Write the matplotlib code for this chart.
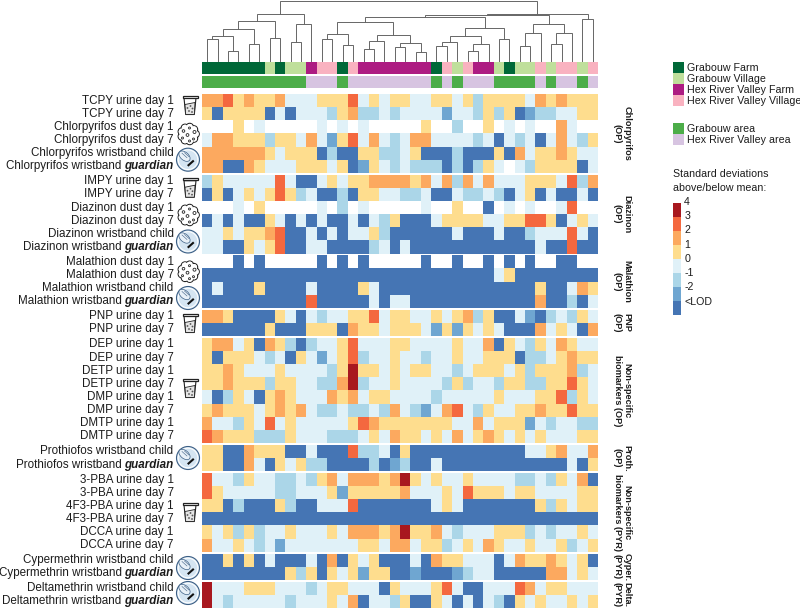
import numpy as np
import matplotlib
matplotlib.use("Agg")
import matplotlib.pyplot as plt
from matplotlib.colors import ListedColormap, BoundaryNorm
from matplotlib.patches import Circle, Polygon, Rectangle, Ellipse

plt.rcParams['font.family'] = ['Liberation Sans', 'DejaVu Sans']

# heat levels: 0 <LOD, 1 -2, 2 -1, 3 0, 4 1, 5 2, 6 3, 7 4, 9 = no value (white)
chlorpyrifos = ["55645 44533 34446 34344 33443 42444 43545 444",
                "40444 40303 33245 22323 33313 32424 01223 344",
                "99949 39999 93939 39999 94992 99493 93995 399",
                "35544 42443 53146 35323 55333 32303 23035 324",
                "55555 54344 40200 44223 40002 00040 53445 433",
                "55005 43334 44340 14323 22202 02439 32444 403"]
diazinon = ["24333 33630 03434 45555 45352 53533 34443 625",
            "04034 34642 30020 44332 23003 22320 34030 030",
            "99939 49999 93929 39999 93994 99093 93993 699",
            "03030 04303 03003 03240 00344 44334 46640 343",
            "33434 45600 30303 34200 00003 00030 02333 630",
            "33004 34600 33000 02303 00000 00000 00300 600"]
malathion = ["99909 09999 90909 09999 90990 99090 90990 099",
             "00000 00000 00000 00000 00000 00034 00000 000",
             "03000 40000 30000 43000 00000 00000 00400 354",
             "00000 00000 60000 03033 00000 00000 00500 203"]
pnp = ["55400 00430 32334 46344 33434 52400 31023 243",
       "00000 04000 44405 44344 43141 43430 00534 305"]
nonspecific_op = ["45534 05420 23346 33344 33334 33504 32435 433",
                  "40444 32304 31346 23343 32334 33444 02234 544",
                  "44543 33433 33247 44343 44332 34443 42444 523",
                  "44544 42443 32257 23343 33324 23324 42244 643",
                  "30243 04543 33545 34433 33233 33343 33446 243",
                  "45444 34545 32232 23253 21356 32433 44544 644",
                  "53324 36343 33334 65444 44443 35344 41323 322",
                  "65444 22243 33222 34354 43435 34543 43433 344"]
prothiofos = ["44005 44400 30006 22304 00000 00000 03345 335",
              "44005 30434 22000 02012 00300 00000 00000 304"]
nonspecific_pyr = ["63324 33223 24535 55457 43433 43333 22324 350",
                   "64333 33223 33414 44445 33343 64443 44333 344",
                   "44020 00420 03336 00000 00343 00000 00424 344",
                   "00000 00000 00000 00000 00000 00000 00000 000",
                   "43424 23343 33435 55457 44532 33344 42323 343",
                   "53343 23133 33333 44355 34423 43543 34334 234"]
cypermethrin = ["00404 03000 30504 34000 30544 33303 54454 340",
                "00000 00042 40434 14400 10001 23300 00055 343"]
deltamethrin = ["73334 44333 23443 33043 33463 00333 65344 333",
                "73233 33323 33435 03324 00430 30320 43433 434"]

row_labels = [["TCPY urine day 1", "TCPY urine day 7", "Chlorpyrifos dust day 1", "Chlorpyrifos dust day 7",
               "Chlorpyrifos wristband child", "Chlorpyrifos wristband guardian"],
              ["IMPY urine day 1", "IMPY urine day 7", "Diazinon dust day 1", "Diazinon dust day 7",
               "Diazinon wristband child", "Diazinon wristband guardian"],
              ["Malathion dust day 1", "Malathion dust day 7", "Malathion wristband child",
               "Malathion wristband guardian"],
              ["PNP urine day 1", "PNP urine day 7"],
              ["DEP urine day 1", "DEP urine day 7", "DETP urine day 1", "DETP urine day 7",
               "DMP urine day 1", "DMP urine day 7", "DMTP urine day 1", "DMTP urine day 7"],
              ["Prothiofos wristband child", "Prothiofos wristband guardian"],
              ["3-PBA urine day 1", "3-PBA urine day 7", "4F3-PBA urine day 1", "4F3-PBA urine day 7",
               "DCCA urine day 1", "DCCA urine day 7"],
              ["Cypermethrin wristband child", "Cypermethrin wristband guardian"],
              ["Deltamethrin wristband child", "Deltamethrin wristband guardian"]]
group_names = ["Chlorpyrifos\n(OP)", "Diazinon\n(OP)", "Malathion\n(OP)", "PNP\n(OP)",
               "Non-specific\nbiomarkers (OP)", "Proth.\n(OP)", "Non-specific\nbiomarkers (PYR)",
               "Cyper.\n(PYR)", "Delta.\n(PYR)"]
groups = [chlorpyrifos, diazinon, malathion, pnp, nonspecific_op, prothiofos, nonspecific_pyr,
          cypermethrin, deltamethrin]

# G grabouw farm, V grabouw village, H hex farm, P hex village
site = "GGGGGGVGVVHPPGPHHHHHHHGPVPHHVGVVPVPPVP"
site_names = ["Grabouw Farm", "Grabouw Village", "Hex River Valley Farm", "Hex River Valley Village"]
area_names = ["Grabouw area", "Hex River Valley area"]
level_labels = ["4", "3", "2", "1", "0", "-1", "-2", "<LOD"]

# dendrogram: (height, left, right), an int is a leaf column
tree = (60.3,
        (47.3,
         (40.3,
          (31.7, (25.3, (21.7, 0, 1), (10.3, 2, 3)), (17, 4, 5)),
          (22.7, 6, 7)),
         (36.7, (19.3, 8, 9), 10)),
        (47,
         (46,
          (43.7,
           (38.7,
            (27, (21.7, 11, 12), (16.3, 13, 14)),
            (26, (19.7, (12.3, 15, 16), 17), (17.7, (13.7, 18, 19), (8.7, 20, 21)))),
           (32.7,
            (25, (18.7, (14.7, 22, 23), 24), (16.7, (10, 25, 26), 27)),
            (21.7, 28, 29))),
          (36.7,
           (27.7, (14.7, 30, 31), 32),
           (27.7, (17, 33, 34), 35))),
         (41.7, 36, 37)))

heat_colors = ['#4575b4', '#6fa6d1', '#abd6e8', '#e0f1f8', '#fedd8e', '#fca95f', '#f4683f', '#a8181f']
site_colors = {'G': '#006838', 'V': '#bfdf9b', 'H': '#ad1c82', 'P': '#f9b2c0'}
area_colors = {'G': '#4cad49', 'V': '#4cad49', 'H': '#d7c4e1', 'P': '#d7c4e1'}
txt = '#1c1c1c'

W, H = 800, 610
fig = plt.figure(figsize=(W / 100, H / 100), dpi=100)


def axes_px(x0, y0, x1, y1):
    return fig.add_axes([x0 / W, 1 - y1 / H, (x1 - x0) / W, (y1 - y0) / H])


# pixel overlay for labels, icons and legend
ov = fig.add_axes([0, 0, 1, 1], zorder=5)
ov.set_xlim(0, W)
ov.set_ylim(H, 0)
ov.axis('off')
ov.patch.set_alpha(0)

# heatmap
HX0, HX1, HY0, HY1 = 202, 598, 94, 608
ax = axes_px(HX0, HY0, HX1, HY1)
gap = 0.14
cmap = ListedColormap(heat_colors)
cmap.set_bad('white')
norm = BoundaryNorm(np.arange(-0.5, 8.5), 8)
y = 0.0
row_pos = []
group_pos = []
for g in groups:
    arr = np.array([[int(c) for c in r.replace(" ", "")] for r in g], dtype=float)
    arr[arr == 9] = np.nan
    edges = y + np.arange(len(g) + 1)
    ax.pcolormesh(np.arange(39), edges, np.ma.masked_invalid(arr), cmap=cmap, norm=norm,
                  edgecolor='none', antialiased=False)
    row_pos.append(edges[:-1] + 0.5)
    group_pos.append(y + len(g) / 2)
    y += len(g) + gap
total = y - gap
ax.set_xlim(0, 38)
ax.set_ylim(total, 0)
ax.axis('off')


def to_px(v):
    return HY0 + v / total * (HY1 - HY0)


# row labels, "guardian" in bold italic
renderer = fig.canvas.get_renderer()
LABEL_X = 173.5
for labels, pos in zip(row_labels, row_pos):
    for lab, p in zip(labels, pos):
        py = to_px(p)
        if lab.endswith("guardian"):
            t = ov.text(LABEL_X, py, "guardian", ha='right', va='center', fontsize=8.4,
                        style='italic', weight='bold', color=txt)
            w = t.get_window_extent(renderer).width
            ov.text(LABEL_X - w - 2.6, py, lab[:-9], ha='right', va='center', fontsize=8.4, color=txt)
        else:
            ov.text(LABEL_X, py, lab, ha='right', va='center', fontsize=8.4, color=txt)

# group labels on the right
for name, p in zip(group_names, group_pos):
    ov.text(622, to_px(p), name, rotation=-90, ha='center', va='center', fontsize=6.6,
            weight='bold', color=txt, linespacing=1.05, multialignment='center')

# annotation bars
for row, colors, (y0, y1) in [(site, site_colors, (62.3, 74)), (site, area_colors, (76.3, 88))]:
    bar = axes_px(HX0, y0, HX1, y1)
    for i, c in enumerate(row):
        bar.axvspan(i, i + 1, color=colors[c], lw=0)
    bar.set_xlim(0, 38)
    bar.axis('off')

# dendrogram
dn = axes_px(HX0, 0, HX1, 61)
dn.set_xlim(0, 38)
dn.set_ylim(0, 61)
dn.axis('off')


def draw_node(node):
    if isinstance(node, int):
        return node + 0.5, 0.0
    h, left, right = node
    xl, hl = draw_node(left)
    xr, hr = draw_node(right)
    dn.plot([xl, xl, xr, xr], [hl, h, h, hr], color='#666666', lw=0.7, solid_joinstyle='miter', clip_on=False)
    return (xl + xr) / 2, h


draw_node(tree)


# icons
def cup(cx, cy):
    ic = '#222222'
    ov.add_patch(Polygon([(cx - 6, cy - 7), (cx + 6, cy - 7), (cx + 4.3, cy + 9.5), (cx - 4.3, cy + 9.5)],
                         closed=True, fc='white', ec=ic, lw=0.8))
    ov.add_patch(Rectangle((cx - 7.5, cy - 9.5), 15, 2.2, fc='white', ec=ic, lw=0.9))
    ov.add_patch(Polygon([(cx - 5, cy - 0.5), (cx + 5, cy - 2.5), (cx + 4.3, cy + 9.5), (cx - 4.3, cy + 9.5)],
                         closed=True, fc='#e4e4e4', ec=ic, lw=0.6))
    for dx, dy in [(-2.5, 3), (0.5, 1), (2.5, 3.5), (-1, 6), (2, 7)]:
        ov.add_patch(Circle((cx + dx, cy + dy), 0.9, fc='#555555', ec='none'))


def dust(cx, cy):
    ic = '#222222'
    ang = np.deg2rad(np.arange(0, 360, 40))
    for a in ang:
        ov.add_patch(Circle((cx + 7 * np.cos(a), cy + 7 * np.sin(a)), 3.8, fc='white', ec=ic, lw=0.8))
    for a in ang:
        ov.add_patch(Circle((cx + 7 * np.cos(a), cy + 7 * np.sin(a)), 3.2, fc='white', ec='none'))
    ov.add_patch(Circle((cx, cy), 7.5, fc='white', ec='none'))
    for dx, dy, r in [(-5, -3, 1.3), (1, -6, 1.0), (6, -2, 1.5), (-1, 1, 1.4), (5, 5, 1.0), (-6, 4, 1.0),
                      (1, 7, 1.0)]:
        ov.add_patch(Circle((cx + dx, cy + dy), r, fc='white', ec=ic, lw=0.6))


def band(cx, cy):
    edge = '#3c5f85'
    ov.add_patch(Circle((cx, cy), 11.5, fc='#d5e5f2', ec=edge, lw=0.8))
    ov.add_patch(Circle((cx, cy), 9.8, fc='none', ec='white', lw=0.7))
    ov.add_patch(Ellipse((cx - 3.5, cy - 3.5), 13, 8, angle=40, fc='#e9f1f8', ec=edge, lw=0.5))
    ov.plot([cx - 6, cx - 1], [cy - 6.5, cy - 2], color=edge, lw=0.4)
    ov.plot([cx - 3.5, cx + 1], [cy - 7, cy - 3], color=edge, lw=0.4)
    ov.plot([cx + 0.5, cx + 5], [cy + 5.5, cy + 1.5], color='#111111', lw=1.5)


for cy in [105, 187.7, 323, 388, 512]:
    cup(190, cy)
for cy in [134, 215, 271.7]:
    dust(188.5, cy)
for cy in [159.7, 241.5, 298, 458, 568, 593]:
    band(188, cy)

# legends
LX = 672.7
LEG_FS = 7.7
for i, name in enumerate(site_names):
    ov.add_patch(Rectangle((LX, 62.3 + 11 * i), 11.6, 11, fc=site_colors['GVHP'[i]], ec='none'))
    ov.text(686.7, 67.8 + 11 * i, name, va='center', ha='left', fontsize=LEG_FS, color=txt)
for i, name in enumerate(area_names):
    ov.add_patch(Rectangle((LX, 123.3 + 11 * i), 11.6, 11, fc=area_colors['GH'[i]], ec='none'))
    ov.text(686.7, 128.8 + 11 * i, name, va='center', ha='left', fontsize=LEG_FS, color=txt)
ov.text(LX, 174, "Standard deviations", va='center', ha='left', fontsize=LEG_FS, color=txt)
ov.text(LX, 187.7, "above/below mean:", va='center', ha='left', fontsize=LEG_FS, color=txt)
for i, col in enumerate(heat_colors[::-1]):
    ov.add_patch(Rectangle((LX, 202.7 + 14 * i), 8, 14, fc=col, ec='none'))
for i, lab in enumerate(level_labels):
    ov.text(684.3, 201.7 + 14.3 * i, lab, va='center', ha='left', fontsize=LEG_FS, color=txt)

fig.savefig('out.png', dpi=100)
